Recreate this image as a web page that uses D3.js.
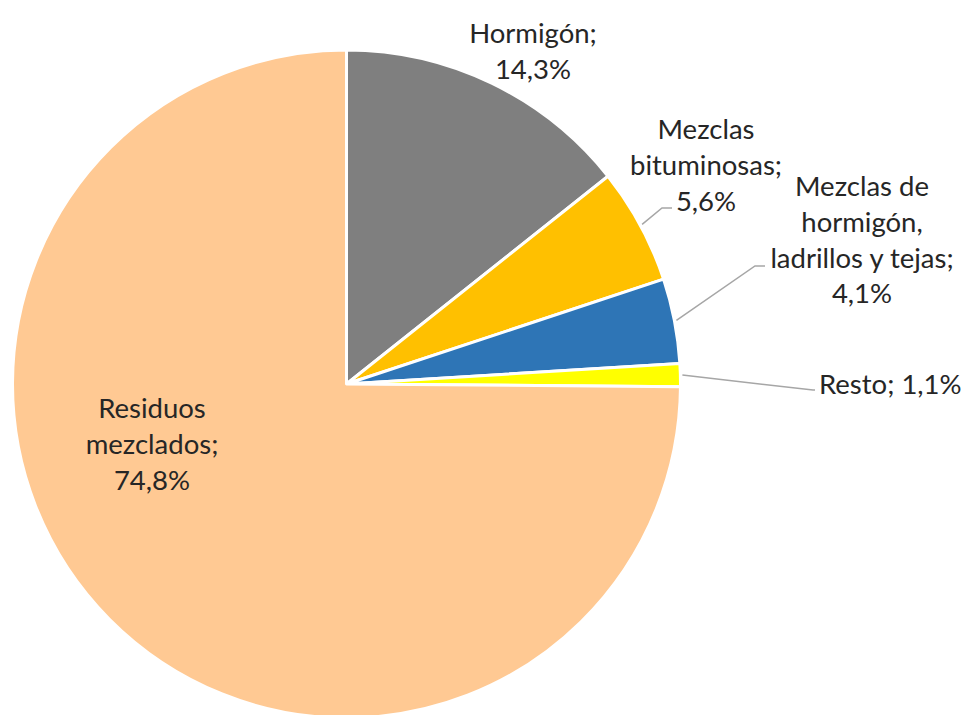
<!DOCTYPE html>
<html>
<head>
<meta charset="utf-8">
<script src="https://cdn.jsdelivr.net/npm/d3@7"></script>
<style>
  html, body { margin: 0; padding: 0; background: #fff; }
  svg { display: block; }
  text { font-family: Lato, "Liberation Sans", sans-serif; }
</style>
</head>
<body>
<svg id="chart" width="963" height="715"></svg>
<script>
// ---- data ----
const categories = ["Hormigón", "Mezclas bituminosas", "Mezclas de hormigón, ladrillos y tejas", "Resto", "Residuos mezclados"];
const values = [14.3, 5.6, 4.1, 1.1, 74.8];
const valueLabels = ["14,3%", "5,6%", "4,1%", "1,1%", "74,8%"];
const labelLines = [
  ["Hormigón;", "14,3%"],
  ["Mezclas", "bituminosas;", "5,6%"],
  ["Mezclas de", "hormigón,", "ladrillos y tejas;", "4,1%"],
  ["Resto; 1,1%"],
  ["Residuos", "mezclados;", "74,8%"]
];
const colors = ["#7F7F7F", "#FFC000", "#2E75B6", "#FFFF00", "#FFC993"];

// ---- layout (positions of labels, not data) ----
const cx = 346.5, cy = 384, R = 334;
const labelLayout = [
  { x: 533, y: 32, anchor: "middle", leader: null },
  { x: 706, y: 128, anchor: "middle", leader: { elbow: [662, 208], end: [672, 208] } },
  { x: 862, y: 185, anchor: "middle", leader: { elbow: [755, 266], end: [765, 266] } },
  { x: 819, y: 383, anchor: "start", leader: { elbow: [813, 390], end: [815, 390] } },
  { x: 152, y: 407, anchor: "middle", leader: null }
];
const lineH = 35.8;

const svg = d3.select("#chart");
const g = svg.append("g").attr("transform", `translate(${cx},${cy})`);

const pie = d3.pie().sort(null).value(d => d)
  .startAngle(0).endAngle(2 * Math.PI);
const arcs = pie(values);
const arc = d3.arc().innerRadius(0).outerRadius(R);

g.selectAll("path.slice").data(arcs).join("path")
  .attr("class", "slice")
  .attr("d", arc)
  .attr("fill", (d, i) => colors[i])
  .attr("stroke", "#fff")
  .attr("stroke-width", 3)
  .attr("stroke-linejoin", "round");

// leader lines
arcs.forEach((a, i) => {
  const L = labelLayout[i].leader;
  if (!L) return;
  const mid = (a.startAngle + a.endAngle) / 2;
  const sx = cx + (R + 2) * Math.sin(mid);
  const sy = cy - (R + 2) * Math.cos(mid);
  svg.append("polyline")
    .attr("points", [[sx, sy], L.elbow, L.end].map(p => p.join(",")).join(" "))
    .attr("fill", "none")
    .attr("stroke", "#A6A6A6")
    .attr("stroke-width", 1.5);
});

// labels
labelLines.forEach((lines, i) => {
  const L = labelLayout[i];
  const t = svg.append("text")
    .attr("text-anchor", L.anchor)
    .attr("fill", "#262626")
    .attr("font-size", 27.5)
    .attr("dominant-baseline", "central");
  lines.forEach((s, k) => {
    t.append("tspan").attr("x", L.x).attr("y", L.y + k * lineH).text(s);
  });
});
</script>
</body>
</html>
